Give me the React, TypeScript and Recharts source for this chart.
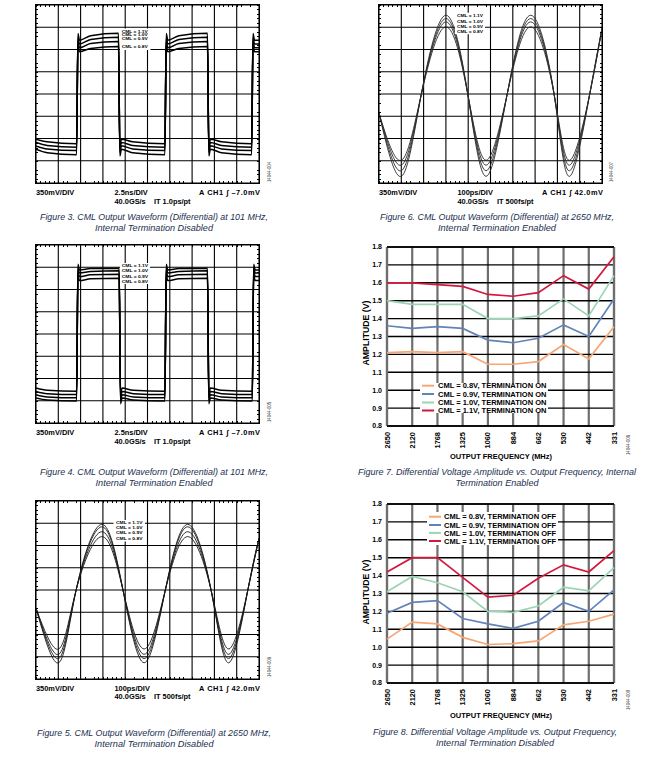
import React from "react";
import { LineChart, Line, XAxis, YAxis, CartesianGrid, ReferenceLine } from "recharts";

// ---------- scope screens (units: divisions, 10 x 8) ----------
const divX = [0, 1, 2, 3, 4, 5, 6, 7, 8, 9, 10];
const divY = [-4, -3, -2, -1, 0, 1, 2, 3, 4];
const cmlLabels = ["CML = 1.1V", "CML = 1.0V", "CML = 0.9V", "CML = 0.8V"];

// Fig 3: 101 MHz, termination disabled. order: 1.1V, 1.0V, 0.9V, 0.8V
const fig3Edges = [1.85, 3.73, 5.81, 7.72, 9.7];
const fig3HighStart = [2.42, 2.25, 2.08, 1.9];
const fig3HighMid = [2.62, 2.45, 2.27, 2.05];
const fig3HighEnd = [2.73, 2.55, 2.36, 2.13];
const fig3LowStart = [-2.48, -2.33, -2.18, -2.03];
const fig3LowMid = [-2.64, -2.47, -2.31, -2.15];
const fig3LowEnd = [-2.73, -2.54, -2.39, -2.24];

// Fig 4: 101 MHz, termination enabled
const fig4Edges = [1.85, 3.76, 5.81, 7.72, 9.73];
const fig4HighStart = [2.88, 2.74, 2.58, 2.4];
const fig4HighMid = [2.94, 2.81, 2.66, 2.48];
const fig4HighEnd = [2.96, 2.84, 2.69, 2.51];
const fig4LowStart = [-2.88, -2.73, -2.58, -2.43];
const fig4LowMid = [-2.97, -2.83, -2.68, -2.53];
const fig4LowEnd = [-3.01, -2.87, -2.72, -2.57];

// Fig 5: 2650 MHz, termination disabled (troughs, crossings, peaks)
const fig5Times = [0, 1.02, 1.8, 2.95, 3.9, 4.85, 5.8, 6.8, 7.85, 8.65, 9.5, 10];
const fig5Cml11 = [-0.82, -3.27, 0, 2.95, 0, -3.27, 0, 2.95, 0, -3.27, 0, 2.32];
const fig5Cml10 = [-0.82, -3.08, 0, 2.84, 0, -3.08, 0, 2.84, 0, -3.08, 0, 2.32];
const fig5Cml09 = [-0.82, -2.89, 0, 2.62, 0, -2.89, 0, 2.62, 0, -2.89, 0, 2.32];
const fig5Cml08 = [-0.82, -2.65, 0, 2.4, 0, -2.65, 0, 2.4, 0, -2.65, 0, 2.32];

// Fig 6: 2650 MHz, termination enabled
const fig6Times = [0, 1.0, 1.9, 3.0, 3.98, 4.8, 5.75, 6.8, 7.85, 8.55, 9.45, 10];
const fig6Cml11 = [-0.86, -3.7, 0, 3.54, 0, -3.7, 0, 3.54, 0, -3.7, 0, 2.95];
const fig6Cml10 = [-0.86, -3.45, 0, 3.39, 0, -3.45, 0, 3.39, 0, -3.45, 0, 2.95];
const fig6Cml09 = [-0.86, -3.2, 0, 3.24, 0, -3.2, 0, 3.24, 0, -3.2, 0, 2.95];
const fig6Cml08 = [-0.86, -2.98, 0, 3.02, 0, -2.98, 0, 3.02, 0, -2.98, 0, 2.95];

// ---------- amplitude vs frequency ----------
const freqs = ["2650", "2120", "1768", "1325", "1060", "884", "662", "530", "442", "331"];
const ampTicks = [0.8, 0.9, 1.0, 1.1, 1.2, 1.3, 1.4, 1.5, 1.6, 1.7, 1.8];
const on08 = [1.21, 1.215, 1.21, 1.215, 1.145, 1.145, 1.16, 1.255, 1.175, 1.355];
const on09 = [1.36, 1.345, 1.355, 1.345, 1.28, 1.265, 1.29, 1.365, 1.3, 1.51];
const on10 = [1.5, 1.48, 1.48, 1.48, 1.4, 1.4, 1.415, 1.51, 1.415, 1.64];
const on11 = [1.6, 1.6, 1.59, 1.58, 1.535, 1.525, 1.545, 1.64, 1.565, 1.745];
const off08 = [1.045, 1.14, 1.13, 1.055, 1.015, 1.02, 1.035, 1.125, 1.145, 1.185];
const off09 = [1.19, 1.25, 1.26, 1.16, 1.13, 1.105, 1.145, 1.25, 1.2, 1.32];
const off10 = [1.31, 1.395, 1.36, 1.31, 1.2, 1.195, 1.23, 1.335, 1.315, 1.445];
const off11 = [1.42, 1.5, 1.5, 1.39, 1.28, 1.29, 1.385, 1.46, 1.42, 1.54];

const seriesColors = ["#f7a673", "#6283b8", "#9bd4b5", "#d4173f"];
const FONT = "'Liberation Sans', Arial, sans-serif";

type Pt = { t: number; v: number };

function squareTrace(edges: number[], hs: number, hm: number, he: number, ls: number, lm: number, le: number, ring: number): Pt[] {
  const pts: Pt[] = [{ t: 0, v: ls }, { t: 0.5, v: lm }];
  edges.forEach((e, k) => {
    const up = k % 2 === 0;
    pts.push({ t: e - 0.03, v: up ? le : he });
    pts.push({ t: e + 0.03, v: up ? hs + ring : ls - ring });
    pts.push({ t: e + 0.1, v: up ? hs : ls });
    if (k < edges.length - 1) pts.push({ t: e + 0.6, v: up ? hm : lm });
  });
  pts.push({ t: 10, v: hs });
  return pts;
}

const zipTrace = (times: number[], vals: number[]): Pt[] => times.map((t, i) => ({ t, v: vals[i] }));

const fig3Traces = cmlLabels.map((_, i) =>
  squareTrace(fig3Edges, fig3HighStart[i], fig3HighMid[i], fig3HighEnd[i], fig3LowStart[i], fig3LowMid[i], fig3LowEnd[i], 0.3)
);
const fig4Traces = cmlLabels.map((_, i) =>
  squareTrace(fig4Edges, fig4HighStart[i], fig4HighMid[i], fig4HighEnd[i], fig4LowStart[i], fig4LowMid[i], fig4LowEnd[i], 0.25)
);
const fig5Traces = [fig5Cml11, fig5Cml10, fig5Cml09, fig5Cml08].map((v) => zipTrace(fig5Times, v));
const fig6Traces = [fig6Cml11, fig6Cml10, fig6Cml09, fig6Cml08].map((v) => zipTrace(fig6Times, v));

const fig7Rows = freqs.map((f, i) => ({ f, c08: on08[i], c09: on09[i], c10: on10[i], c11: on11[i] }));
const fig8Rows = freqs.map((f, i) => ({ f, c08: off08[i], c09: off09[i], c10: off10[i], c11: off11[i] }));

const BOX_W = 223;
const BOX_H = 178;

function MinorTicks({ x, y }: { x: number; y: number }) {
  const h = (c: string) => `repeating-linear-gradient(${c}, #000 0px, #000 0.8px, transparent 0.8px, transparent 4.46px)`;
  const base: React.CSSProperties = { position: "absolute" };
  return (
    <>
      <div style={{ ...base, left: x, top: y, width: BOX_W, height: 2.2, background: h("to right") }} />
      <div style={{ ...base, left: x, top: y + BOX_H - 2.2, width: BOX_W, height: 2.2, background: h("to right") }} />
      <div style={{ ...base, left: x, top: y, width: 2.2, height: BOX_H, background: h("to bottom") }} />
      <div style={{ ...base, left: x + BOX_W - 2.2, top: y, width: 2.2, height: BOX_H, background: h("to bottom") }} />
      <div style={{ ...base, left: x - 0.6, top: y - 0.6, width: BOX_W, height: BOX_H, border: "1.2px solid #000" }} />
    </>
  );
}

function Scope({ x, y, traces, sw, color, curve }: { x: number; y: number; traces: Pt[][]; sw: number; color: string; curve: "monotone" | "natural" }) {
  return (
    <>
      <div style={{ position: "absolute", left: x - 1, top: y - 1 }}>
        <LineChart width={BOX_W + 2} height={BOX_H + 2} margin={{ top: 1, right: 1, bottom: 1, left: 1 }}>
          <CartesianGrid stroke="#000" strokeWidth={1.1} />
          <XAxis type="number" dataKey="t" domain={[0, 10]} ticks={divX} interval={0} hide allowDataOverflow />
          <YAxis type="number" dataKey="v" domain={[-4, 4]} ticks={divY} interval={0} hide allowDataOverflow />
          {traces.map((d, i) => (
            <Line key={i} data={d} dataKey="v" type={curve} stroke={color} strokeWidth={sw} dot={false} isAnimationActive={false} />
          ))}
        </LineChart>
      </div>
      <MinorTicks x={x} y={y} />
    </>
  );
}

const FreqTick = (props: any) => {
  const { x, y, payload } = props;
  return (
    <text x={x} y={y} transform={`rotate(-90 ${x} ${y})`} textAnchor="end" dy="0.35em" fontSize={7.4} fontWeight={700} fill="#000" fontFamily={FONT}>
      {payload.value}
    </text>
  );
};

function AmpChart({ top, rows }: { top: number; rows: any[] }) {
  return (
    <div style={{ position: "absolute", left: 355, top }}>
      <LineChart width={270} height={225} data={rows} margin={{ top: 7, right: 11, bottom: 0, left: 0 }}>
        <CartesianGrid horizontal={false} stroke="#6e6e6e" strokeWidth={2.2} />
        <CartesianGrid vertical={false} stroke="#000" strokeWidth={1.4} />
        <ReferenceLine x={freqs[0]} stroke="#6e6e6e" strokeWidth={2.2} />
        <ReferenceLine x={freqs[freqs.length - 1]} stroke="#6e6e6e" strokeWidth={2.2} />
        <ReferenceLine y={ampTicks[0]} stroke="#000" strokeWidth={1.4} />
        <ReferenceLine y={ampTicks[ampTicks.length - 1]} stroke="#000" strokeWidth={1.4} />
        <XAxis dataKey="f" interval={0} tick={<FreqTick />} tickLine={false} axisLine={false} height={39} tickSize={0} tickMargin={6} />
        <YAxis
          domain={[0.8, 1.8]}
          ticks={ampTicks}
          interval={0}
          tickFormatter={(v: number) => v.toFixed(1)}
          width={32}
          tick={{ fontSize: 7, fontWeight: 700, fill: "#000", fontFamily: FONT }}
          tickLine={false}
          axisLine={false}
          tickSize={0}
          tickMargin={5}
          allowDataOverflow
        />
        {["c08", "c09", "c10", "c11"].map((k, i) => (
          <Line key={k} dataKey={k} type="linear" stroke={seriesColors[i]} strokeWidth={1.7} dot={false} isAnimationActive={false} />
        ))}
      </LineChart>
    </div>
  );
}

function ScopeInfo({ x, y, timeDiv, it, trig }: { x: number; y: number; timeDiv: string; it: string; trig: string }) {
  const b1 = y + 11.9;
  const b2 = y + 20.2;
  return (
    <g fontSize={7.4} fontWeight={700} fill="#000" fontFamily={FONT}>
      <text x={x} y={b1}>350mV/DIV</text>
      <text x={x + 78.5} y={b1}>{timeDiv}</text>
      <text x={x + 78.5} y={b2}>40.0GS/s</text>
      <text x={x + 118} y={b2}>{it}</text>
      <text x={x + 224} y={b1} textAnchor="end" textLength={61} lengthAdjust="spacing">{`A  CH1 ∫ ${trig}`}</text>
    </g>
  );
}

function ScopeLegend({ x, y, w, h, tx, tw, fs, rows }: { x: number; y: number; w: number; h: number; tx: number; tw: number; fs: number; rows: number[] }) {
  return (
    <g>
      <rect x={x} y={y} width={w} height={h} fill="#fff" />
      {cmlLabels.map((l, i) => (
        <text key={l} x={tx} y={rows[i]} fontSize={fs} fontWeight={700} fill="#000" fontFamily={FONT} textLength={tw} lengthAdjust="spacingAndGlyphs">
          {l}
        </text>
      ))}
    </g>
  );
}

function Caption({ cx, y, l1, w1, l2, w2 }: { cx: number; y: number; l1: string; w1: number; l2: string; w2: number }) {
  const common = { fontSize: 9.3, fontStyle: "italic", fill: "#22304f", fontFamily: FONT, textAnchor: "middle" as const, lengthAdjust: "spacingAndGlyphs" };
  return (
    <g>
      <text x={cx} y={y} textLength={w1} {...common}>{l1}</text>
      <text x={cx} y={y + 10.8} textLength={w2} {...common}>{l2}</text>
    </g>
  );
}

function SideId({ x, y, id }: { x: number; y: number; id: string }) {
  return (
    <text x={x} y={y} transform={`rotate(-90 ${x} ${y})`} textAnchor="middle" dy="0.35em" fontSize={4.6} fill="#444" fontFamily={FONT} textLength={20} lengthAdjust="spacingAndGlyphs">
      {id}
    </text>
  );
}

function AmpLegend({ x, y, w, h, lx, tx, rows, suffix }: { x: number; y: number; w: number; h: number; lx: number; tx: number; rows: number[]; suffix: string }) {
  const names = ["CML = 0.8V", "CML = 0.9V", "CML = 1.0V", "CML = 1.1V"];
  return (
    <g>
      <rect x={x} y={y} width={w} height={h} fill="#fff" />
      {names.map((n, i) => (
        <g key={n}>
          <line x1={lx} x2={lx + 12} y1={rows[i]} y2={rows[i]} stroke={seriesColors[i]} strokeWidth={2} />
          <text x={tx} y={rows[i] + 2.7} fontSize={7.5} fontWeight={700} fill="#000" fontFamily={FONT}>
            {`${n}, TERMINATION ${suffix}`}
          </text>
        </g>
      ))}
    </g>
  );
}

function AxisTitles({ yCenter, xBase }: { yCenter: number; xBase: number }) {
  return (
    <g fontWeight={700} fill="#000" fontFamily={FONT}>
      <text x={366} y={yCenter} transform={`rotate(-90 366 ${yCenter})`} textAnchor="middle" dy="0.35em" fontSize={8.6} textLength={65} lengthAdjust="spacingAndGlyphs">
        AMPLITUDE (V)
      </text>
      <text x={501} y={xBase} textAnchor="middle" fontSize={7.3} textLength={102} lengthAdjust="spacingAndGlyphs">
        OUTPUT FREQUENCY (MHz)
      </text>
    </g>
  );
}

export default function App() {
  return (
    <div style={{ position: "absolute", left: 0, top: 0, width: 661, height: 759, background: "#fff", overflow: "hidden" }}>
      <Scope x={36} y={5} traces={fig3Traces} sw={1.5} color="#000" curve="monotone" />
      <Scope x={379} y={5} traces={fig6Traces} sw={0.9} color="#2a2a2a" curve="natural" />
      <Scope x={36} y={245} traces={fig4Traces} sw={1.5} color="#000" curve="monotone" />
      <Scope x={36} y={501} traces={fig5Traces} sw={0.9} color="#1a1a1a" curve="natural" />
      <AmpChart top={240} rows={fig7Rows} />
      <AmpChart top={497} rows={fig8Rows} />

      <svg width={661} height={759} style={{ position: "absolute", left: 0, top: 0, pointerEvents: "none" }}>
        <ScopeLegend x={120} y={28.5} w={30.5} h={21.5} tx={121.7} tw={26} fs={3.2} rows={[32.6, 36.3, 40.0, 48.2]} />
        <ScopeLegend x={455} y={12.7} w={30} h={21.5} tx={457} tw={26} fs={4.4} rows={[16.9, 22.6, 27.6, 33.3]} />
        <ScopeLegend x={120} y={263} w={30} h={21} tx={121.7} tw={26.5} fs={4.2} rows={[267.3, 272.4, 277.5, 282.6]} />
        <ScopeLegend x={113.5} y={520} w={31.5} h={21.5} tx={116} tw={26.5} fs={4.2} rows={[524.3, 529.3, 534.3, 540.4]} />

        <ScopeInfo x={36} y={183.3} timeDiv="2.5ns/DIV" it="IT 1.0ps/pt" trig="–7.0mV" />
        <ScopeInfo x={379} y={183.3} timeDiv="100ps/DIV" it="IT 500fs/pt" trig="42.0mV" />
        <ScopeInfo x={36} y={423.3} timeDiv="2.5ns/DIV" it="IT 1.0ps/pt" trig="–7.0mV" />
        <ScopeInfo x={36} y={679} timeDiv="100ps/DIV" it="IT 500fs/pt" trig="42.0mV" />

        <SideId x={269.5} y={172} id="14044-004" />
        <SideId x={611.5} y={172} id="14044-007" />
        <SideId x={269.5} y={412} id="14044-005" />
        <SideId x={269.5} y={667} id="14044-006" />
        <SideId x={628} y={445} id="14044-008" />
        <SideId x={628} y={700} id="14044-009" />

        <AmpLegend x={420} y={383} w={128} h={30} lx={422} tx={438} rows={[385.7, 394, 402.5, 410.5]} suffix="ON" />
        <AmpLegend x={427} y={512} w={131} h={33} lx={429} tx={444} rows={[516.7, 525, 532.9, 541]} suffix="OFF" />
        <AxisTitles yCenter={333} xBase={458.6} />
        <AxisTitles yCenter={592} xBase={717.6} />

        <Caption cx={154} y={219.8} l1="Figure 3. CML Output Waveform (Differential) at 101 MHz," w1={228} l2="Internal Termination Disabled" w2={118} />
        <Caption cx={497} y={219.8} l1="Figure 6. CML Output Waveform (Differential) at 2650 MHz," w1={234} l2="Internal Termination Enabled" w2={118} />
        <Caption cx={154} y={474.7} l1="Figure 4. CML Output Waveform (Differential) at 101 MHz," w1={228} l2="Internal Termination Enabled" w2={117} />
        <Caption cx={154} y={736.3} l1="Figure 5. CML Output Waveform (Differential) at 2650 MHz," w1={234} l2="Internal Termination Disabled" w2={119} />
        <Caption cx={497} y={474.7} l1="Figure 7. Differential Voltage Amplitude vs. Output Frequency, Internal" w1={278} l2="Termination Enabled" w2={83} />
        <Caption cx={495} y={734.7} l1="Figure 8. Differential Voltage Amplitude vs. Output Frequency," w1={244} l2="Internal Termination Disabled" w2={118} />
      </svg>
    </div>
  );
}
